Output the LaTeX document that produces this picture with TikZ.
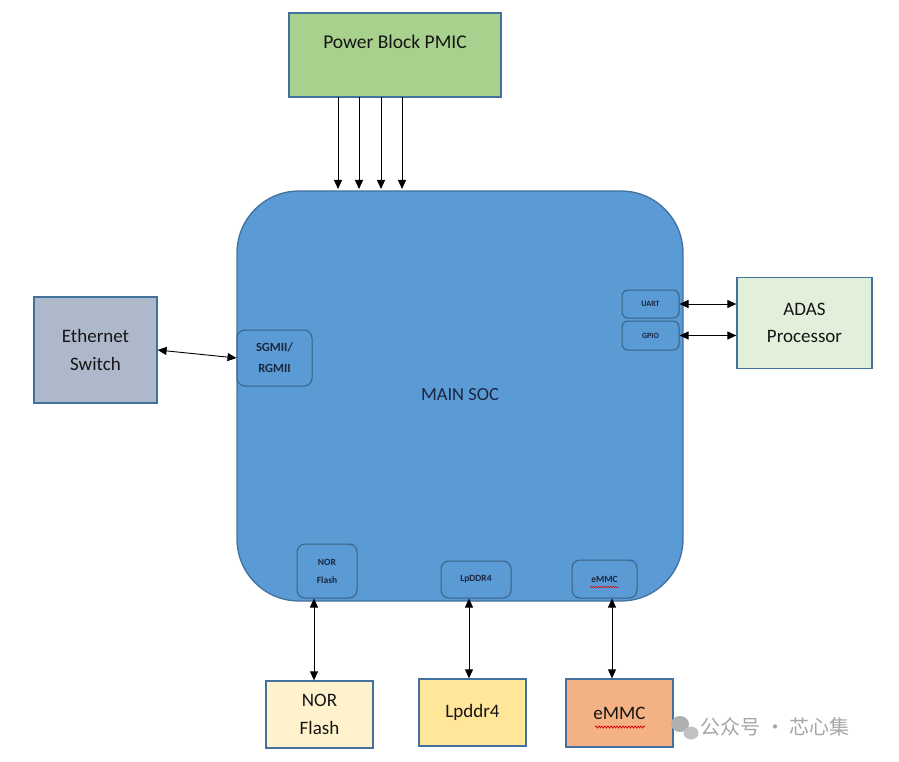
\documentclass[tikz,border=0pt]{standalone}
\usepackage{fontspec}
\setmainfont{Carlito}
\newfontfamily\cjk{Noto Sans CJK SC}
\usetikzlibrary{arrows.meta,decorations.pathmorphing}
\definecolor{socfill}{HTML}{5B9BD5}
\definecolor{socline}{HTML}{41719C}
\definecolor{pmicfill}{HTML}{A9D18E}
\definecolor{ethfill}{HTML}{ADB9CA}
\definecolor{adasfill}{HTML}{E2EFDA}
\definecolor{norfill}{HTML}{FFF2CC}
\definecolor{ddrfill}{HTML}{FFE699}
\definecolor{emmcfill}{HTML}{F4B183}
\definecolor{navy}{HTML}{1A2540}
\definecolor{ink}{HTML}{151515}
\definecolor{wm}{HTML}{A6A6A6}
\tikzset{
  ext/.style={draw=socline, line width=1.3pt, inner sep=0pt, text=ink, font=\fontsize{19}{27.5}\selectfont, align=center},
  port/.style={draw=socline!85!black, line width=1pt, rounded corners=8pt, fill=socfill, inner sep=0pt, text=navy, align=center},
  link/.style={line width=0.9pt, {Triangle[length=9pt,width=8pt]}-{Triangle[length=9pt,width=8pt]}},
  feed/.style={line width=0.9pt, -{Triangle[length=9pt,width=8pt]}}
}
\begin{document}
\begin{tikzpicture}[x=1pt,y=-1pt]
\useasboundingbox (0,0) rectangle (899,762);
% main SOC
\draw[draw=socline, line width=1.3pt, fill=socfill, rounded corners=62pt] (237,191) rectangle (683,601);
\node[text=navy, font=\fontsize{18.5}{22}\selectfont] (soclabel) at (460,395) {MAIN SOC};
% external boxes
\node[ext, fill=pmicfill, minimum width=212pt, minimum height=84pt] (pmic) at (395,55) {};
\node[text=ink, font=\fontsize{19.5}{22}\selectfont] (pmiclabel) at (395,42) {Power Block PMIC};
\node[ext, fill=ethfill, minimum width=123pt, minimum height=106pt] (eth) at (95.5,350) {Ethernet\\Switch};
\node[ext, fill=adasfill, minimum width=135pt, minimum height=91pt] (adas) at (804.5,323) {ADAS\\Processor};
\node[ext, fill=norfill, minimum width=107pt, minimum height=67pt] (norx) at (319.5,714.5) {NOR\\Flash};
\node[ext, fill=ddrfill, minimum width=107pt, minimum height=67pt] (ddrx) at (472.5,712.5) {Lpddr4};
\node[ext, fill=emmcfill, minimum width=107pt, minimum height=68pt] (emmcx) at (619.5,713) {eMMC};
\draw[red!85!black, line width=0.7pt, decorate, decoration={snake, amplitude=1pt, segment length=3pt}] (595,727) -- (645,727);
% ports
\node[port, minimum width=75pt, minimum height=56pt, font=\bfseries\fontsize{12.5}{21}\selectfont] (sgmii) at (274.5,358) {SGMII/\\RGMII};
\node[port, minimum width=57pt, minimum height=28pt, rounded corners=6pt, font=\bfseries\fontsize{8}{10}\selectfont] (uart) at (650.5,304) {UART};
\node[port, minimum width=57pt, minimum height=29pt, rounded corners=6pt, font=\bfseries\fontsize{8}{10}\selectfont] (gpio) at (650.5,335.5) {GPIO};
\node[port, minimum width=60pt, minimum height=54pt, font=\bfseries\fontsize{9.5}{18}\selectfont] (nor) at (327,571) {NOR\\Flash};
\node[port, minimum width=70pt, minimum height=37pt, font=\bfseries\fontsize{9.5}{12}\selectfont] (ddr) at (476,579.5) {LpDDR4};
\node[port, minimum width=65pt, minimum height=38pt, font=\bfseries\fontsize{9.5}{12}\selectfont] (emmc) at (604.5,579) {eMMC};
\draw[red!85!black, line width=0.5pt, decorate, decoration={snake, amplitude=0.7pt, segment length=2.5pt}] (590,587) -- (619,587);
% power feeds
\foreach \x in {338,359,381,402}{
  \coordinate (top\x) at (\x,97);
  \coordinate (bot\x) at (\x,189);
  \draw[feed] (top\x) -- (bot\x);
}
% links
\draw[link] (eth.east) -- (sgmii.west);
\draw[link] (uart.east) -- (uart.east -| adas.west);
\draw[link] (gpio.east) -- (gpio.east -| adas.west);
\draw[link] (norx.north -| 314,0) -- (nor.south -| 314,0);
\draw[link] (ddrx.north -| 469,0) -- (ddr.south -| 469,0);
\draw[link] (emmcx.north -| 612,0) -- (emmc.south -| 612,0);
% watermark
\fill[wm!90] (680,724) ellipse (9pt and 8pt);
\fill[wm!70] (691,733) ellipse (7.5pt and 6.5pt);
\node[text=wm, font=\cjk\fontsize{20}{22}\selectfont, anchor=west] (wmark) at (697,727) {公众号 · 芯心集};
\end{tikzpicture}
\end{document}
